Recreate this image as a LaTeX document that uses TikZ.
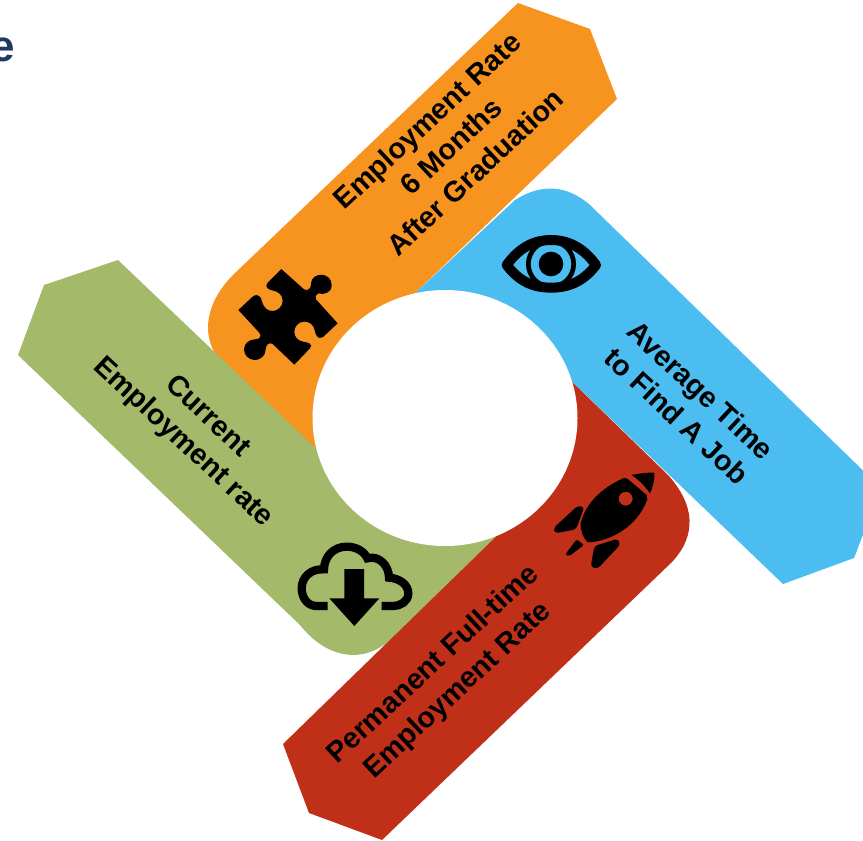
\documentclass[tikz,border=0pt]{standalone}
\usepackage{fontspec}
\setmainfont{Liberation Sans}
\definecolor{armorange}{HTML}{F79420}
\definecolor{armblue}{HTML}{4BBDF0}
\definecolor{armgreen}{HTML}{A5B96A}
\definecolor{armred}{HTML}{C03018}
\definecolor{titlenavy}{HTML}{1F3864}
\tikzset{
  armlabel/.style={align=center, font=\fontsize{21.6}{26.5}\selectfont\bfseries, inner sep=0pt, text=black},
  iconfill/.style={fill=black, draw=none},
  iconline/.style={draw=black, fill=none}
}
\begin{document}
\begin{tikzpicture}[x=0.75pt, y=-0.75pt]

  \newcommand\TILT{43};

  \useasboundingbox (0, 0) rectangle (863, 840);

  \node[font=\fontsize{33}{40}\selectfont\bfseries, text=titlenavy, inner sep=0pt] (titletail) at (3, 50) {e};

  % arms, each one laps the next
  \fill[armorange] (518, 3) -- (590, 29) -- (617, 99) -- (410, 298) -- (330, 462) -- (225, 366)
  .. controls (200, 342) and (202, 305) .. (235, 273) -- cycle;
  \fill[armgreen] (118, 260) -- (44, 285) -- (18, 355) -- (300, 625)
  .. controls (330, 663) and (370, 663) .. (395, 635) -- (510, 523) -- (330, 462) -- cycle;
  \fill[armred] (560, 370) -- (668, 475)
  .. controls (695, 505) and (697, 535) .. (672, 562)
  -- (382, 840) -- (309, 813) -- (283, 744) -- (510, 523) -- cycle;
  \fill[armblue] (515, 200) .. controls (540, 184) and (566, 184) .. (590, 205)
  -- (881, 488) -- (854, 558) -- (783, 584) -- (560, 370) -- (410, 298) -- cycle;

  \fill[white] (445, 418) ellipse[x radius=132.5, y radius=128];

  \node[armlabel, rotate=\TILT] (orangetext) at (451, 146) {Employment Rate\\6 Months\\After Graduation};
  \node[armlabel, rotate=-\TILT] (bluetext) at (689, 403) {Average Time\\to Find A Job};
  \node[armlabel, rotate=\TILT] (redtext) at (446, 678) {Permanent Full-time\\Employment Rate};
  \node[armlabel, rotate=-\TILT] (greentext) at (195, 430) {Current\\Employment rate};

  % puzzle
  \begin{scope}[shift={(200, 230)}, scale=1/3]
    \path[iconfill] (244, 117) -- (312, 178) .. controls (322, 185) and (335, 175) .. (333, 160)
    .. controls (335, 125) and (395, 125) .. (395, 165) .. controls (395, 190) and (370, 195) .. (355, 190)
    .. controls (348, 195) and (343, 200) .. (348, 208) -- (413, 280) -- (368, 322)
    .. controls (352, 330) and (346, 312) .. (344, 300) .. controls (340, 283) and (328, 275) .. (313, 275)
    .. controls (295, 275) and (283, 290) .. (283, 305) .. controls (283, 322) and (295, 333) .. (310, 335)
    .. controls (325, 337) and (340, 342) .. (330, 355) -- (283, 404) -- (218, 342)
    .. controls (208, 335) and (197, 345) .. (197, 358) .. controls (197, 378) and (180, 390) .. (165, 390)
    .. controls (145, 390) and (132, 375) .. (132, 358) .. controls (132, 340) and (148, 328) .. (165, 328)
    .. controls (180, 328) and (186, 318) .. (178, 308) -- (115, 240) -- (160, 198)
    .. controls (172, 190) and (185, 200) .. (186, 215) .. controls (190, 232) and (203, 243) .. (217, 243)
    .. controls (235, 243) and (248, 228) .. (248, 212) .. controls (248, 195) and (235, 185) .. (220, 182)
    .. controls (205, 180) and (192, 170) .. (203, 158) -- cycle;
  \end{scope}

  % eye
  \begin{scope}[shift={(490, 220)}, scale=1/3]
    \path[iconline, line width=7.5pt, line join=round] (50, 135) .. controls (90, 80) and (135, 60) .. (183, 60)
    .. controls (231, 60) and (278, 80) .. (318, 135) .. controls (278, 188) and (231, 203) .. (183, 203)
    .. controls (135, 203) and (90, 188) .. (50, 135) -- cycle;
    \path[iconline, line width=3.5pt] (183, 132) circle[radius=68];
    \path[iconfill] (183, 132) circle[radius=37];
  \end{scope}

  % rocket
  \begin{scope}[shift={(540, 460)}, scale=1/3]
    \path[iconfill] (275, 45) .. controls (300, 40) and (325, 37) .. (343, 38)
    .. controls (345, 60) and (338, 82) .. (330, 100) .. controls (315, 78) and (297, 60) .. (275, 45) -- cycle;
    \path[iconfill, even odd rule] (252, 54) .. controls (180, 85) and (135, 135) .. (122, 190)
    .. controls (120, 210) and (130, 235) .. (143, 247) .. controls (205, 245) and (290, 205) .. (322, 118)
    -- (320, 105) -- (262, 56) -- cycle
    (257, 116) circle[radius=21];
    \path[iconfill, rounded corners=2.5pt] (113, 137) -- (133, 141) -- (108, 208) -- (45, 220) -- (40, 205) -- cycle;
    \path[iconfill, rounded corners=2.5pt] (163, 258) -- (234, 236) -- (241, 254) -- (172, 327) -- (152, 320) -- cycle;
    \path[iconfill, rounded corners=1.5pt] (110, 238) -- (132, 255) -- (85, 290) -- (76, 283) -- cycle;
  \end{scope}

  % cloud
  \begin{scope}[shift={(285, 530)}, scale=1/3]
    \path[iconline, line width=6.2pt] (128, 228) -- (95, 228) .. controls (65, 228) and (50, 200) .. (50, 175)
    .. controls (50, 140) and (80, 115) .. (117, 118) .. controls (118, 80) and (145, 50) .. (185, 50)
    .. controls (215, 50) and (238, 65) .. (247, 85) .. controls (280, 75) and (312, 105) .. (312, 143)
    .. controls (345, 145) and (370, 165) .. (370, 190) .. controls (370, 215) and (345, 228) .. (325, 228) -- (290, 228);
    \path[iconfill] (178, 117) -- (237, 117) -- (237, 205) -- (283, 205) -- (208, 288) -- (133, 205) -- (178, 205) -- cycle;
  \end{scope}

\end{tikzpicture}
\end{document}
